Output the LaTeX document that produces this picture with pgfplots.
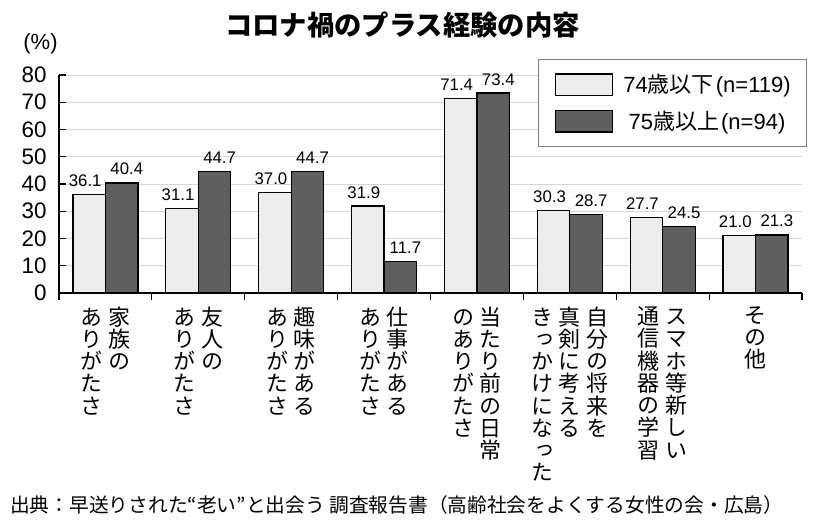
\documentclass[border=0pt]{standalone}
\usepackage{fontspec}
\setmainfont{Liberation Sans}
\newfontfamily\jp{Noto Sans CJK JP}
\newfontfamily\jpv[RawFeature=+vert]{Noto Sans CJK JP}
\usepackage{pgfplots}
\pgfplotsset{compat=1.18}
\definecolor{barlight}{HTML}{ECECEC}
\definecolor{bardark}{HTML}{5F5F5F}
\definecolor{gridgray}{HTML}{D6D6D6}

% one vertical column of characters, top aligned
\ExplSyntaxOn
\NewDocumentCommand\tatecol{m}{
  \vtop{\baselineskip=16.7pt\lineskiplimit=-20pt\lineskip=0pt
    \tl_map_inline:nn {#1} {\hbox{##1}}}
}
\ExplSyntaxOff
\newcommand\tlab[1]{{\jpv\fontsize{16.5}{16.7}\selectfont #1}}
\newcommand\cs{\kern4.1pt}

\begin{document}
\begin{tikzpicture}[x=0.75pt,y=0.75pt]
\useasboundingbox (0,0) rectangle (820,526);
\begin{axis}[
    at={(44.25pt,174.75pt)}, anchor=south west,
    scale only axis, width=557.25pt, height=163.5pt,
    xmin=0, xmax=8, ymin=0, ymax=80,
    axis x line*=bottom, axis y line*=left,
    axis line style={line width=0.9pt, black},
    xtick={0,1,...,8}, xticklabels={},
    extra x ticks={0.5,1.5,...,7.5},
    extra x tick labels={
        \tlab{\tatecol{ありがたさ}\cs\tatecol{家族の}},
        \tlab{\tatecol{ありがたさ}\cs\tatecol{友人の}},
        \tlab{\tatecol{ありがたさ}\cs\tatecol{趣味がある}},
        \tlab{\tatecol{ありがたさ}\cs\tatecol{仕事がある}},
        \tlab{\tatecol{のありがたさ}\cs\tatecol{当たり前の日常}},
        \tlab{\tatecol{きっかけになった}\cs\tatecol{真剣に考える}\cs\tatecol{自分の将来を}},
        \tlab{\tatecol{通信機器の学習}\cs\tatecol{スマホ等新しい}},
        \tlab{\tatecol{その他}}},
    extra x tick style={major tick length=0pt,
        xticklabel style={anchor=north, inner sep=0pt, yshift=-10pt}},
    ytick={0,10,...,80},
    tick align=inside, major tick length=5pt,
    tick style={black, line width=0.9pt},
    ymajorgrids, grid style={gridgray, line width=0.75pt},
    yticklabel style={font=\fontsize{16.8}{16.8}\selectfont, inner sep=0pt, xshift=-9.2pt},
    /pgf/number format/assume math mode=true,
    ybar=0pt, bar width=24.4pt,
    nodes near coords={\pgfmathprintnumber[fixed,fixed zerofill,precision=1]{\pgfplotspointmeta}},
    nodes near coords style={font=\fontsize{12.6}{12.6}\selectfont, anchor=base, inner sep=0pt, yshift=6pt, text=black},
    legend style={at={(0.6447,1.073)}, anchor=north west, draw=gray, line width=0.75pt,
        inner xsep=12pt, inner ysep=10.3pt, row sep=10.3pt, column sep=8pt,
        font=\fontsize{16.5}{16.5}\selectfont, nodes={inner sep=0pt}},
    legend image code/.code={\draw[#1, line width=0.9pt] (0pt,-8.1pt) rectangle (42.75pt,8.1pt);},
]
\addplot[fill=barlight, draw=black, line width=0.9pt,
    every node near coord/.append style={xshift=-3pt}]
    coordinates {(0.5,36.1)(1.5,31.1)(2.5,37.0)(3.5,31.9)(4.5,71.4)(5.5,30.3)(6.5,27.7)(7.5,21.0)};
\addlegendentry{74{\jp 歳以下}\kern1.5pt(n=119)}
\addplot[fill=bardark, draw=black, line width=0.9pt,
    every node near coord/.append style={xshift=3.8pt}]
    coordinates {(0.5,40.4)(1.5,44.7)(2.5,44.7)(3.5,11.7)(4.5,73.4)(5.5,28.7)(6.5,24.5)(7.5,21.3)};
\addlegendentry{75{\jp 歳以上}\kern1.5pt(n=94)}
\end{axis}
\node[inner sep=0pt, font=\jp\bfseries\fontsize{20.5}{20.5}\selectfont] at (402.5,501) {コロナ禍のプラス経験の内容};
\node[inner sep=0pt, font=\fontsize{16.5}{16.5}\selectfont] at (40.5,482) {(\%)};
\node[inner sep=0pt, anchor=west, font=\jp\fontsize{14.8}{14.8}\selectfont] at (10,21) {出典：早送りされた“老い”と出会う 調査報告書（高齢社会をよくする女性の会・広島）};
\end{tikzpicture}
\end{document}
